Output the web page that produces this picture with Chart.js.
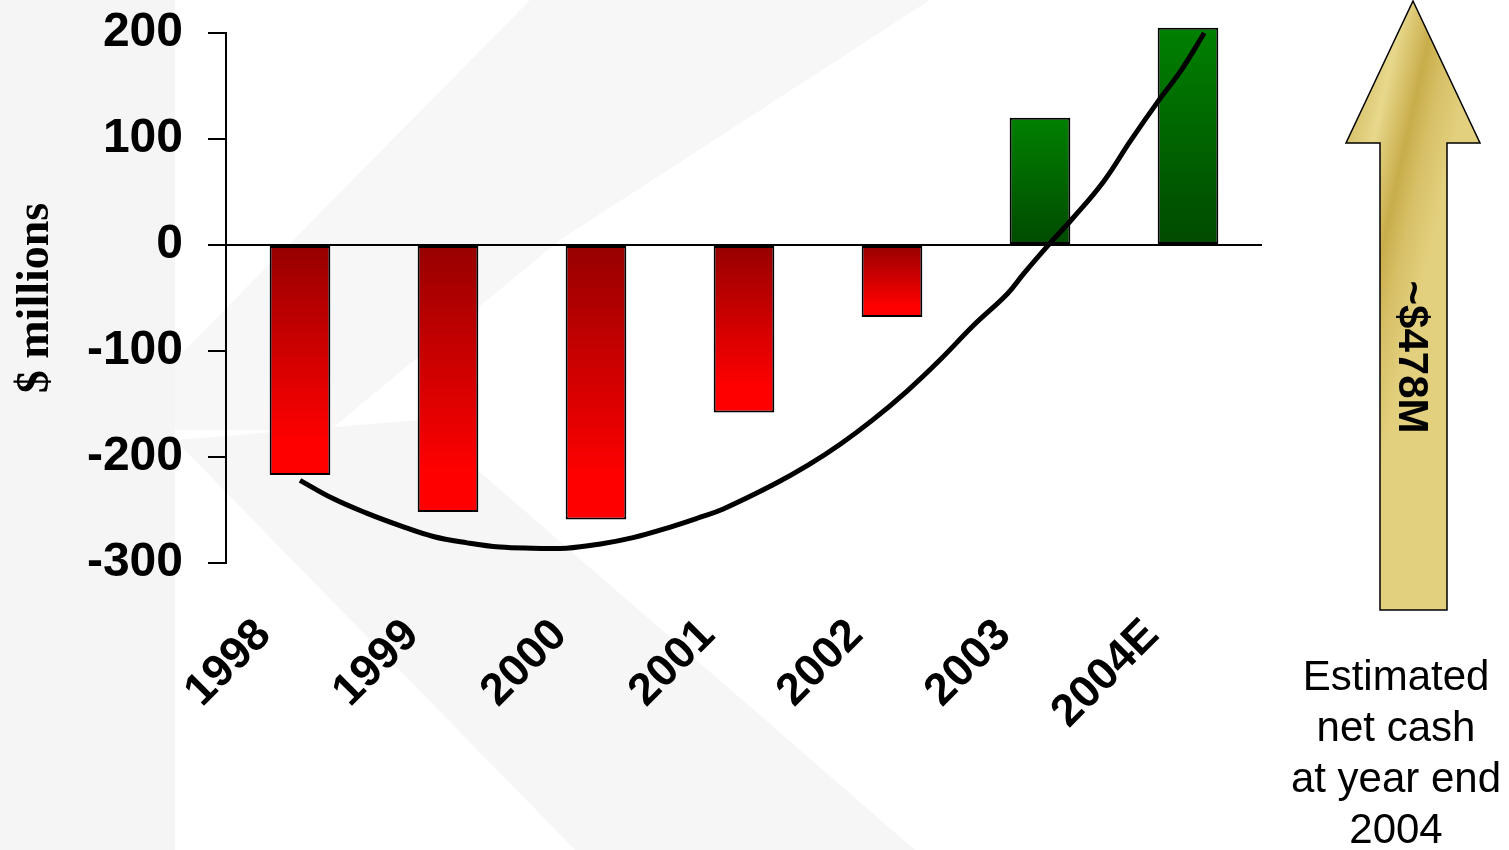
<!DOCTYPE html>
<html>
<head>
<meta charset="utf-8">
<script src="https://cdn.jsdelivr.net/npm/chart.js@4.4.1/dist/chart.umd.min.js"></script>
<style>
  html, body { margin:0; padding:0; background:#fff; width:1509px; height:850px; overflow:hidden; }
  #bg { position:absolute; left:0; top:0; }
  #wrap { position:absolute; left:0; top:0; width:1290px; height:850px; }
  #arrow { position:absolute; left:0; top:0; }
  .amt { position:absolute; left:1413px; top:357px; transform:translate(-50%,-50%) rotate(90deg);
         font:bold 42px "Liberation Sans", Arial, sans-serif; color:#000; white-space:nowrap; }
  .note { position:absolute; left:1276px; width:240px; top:650px; text-align:center;
          font:42px/51px "Liberation Sans", Arial, sans-serif; color:#000; }
</style>
</head>
<body>
<svg id="bg" width="1509" height="850">
  <rect x="0" y="0" width="175" height="850" fill="#f5f5f5"/>
  <polygon points="530,0 930,0 560,240 330,430 175,430 175,360" fill="#f7f7f7"/>
  <polygon points="175,440 420,420 915,850 575,850" fill="#f6f6f6"/>
</svg>
<div id="wrap"><canvas id="c" width="1290" height="850"></canvas></div>
<svg id="arrow" width="1509" height="850">
  <defs>
    <linearGradient id="gold" gradientUnits="userSpaceOnUse" x1="1346" y1="0" x2="1480" y2="30">
      <stop offset="0" stop-color="#dcc774"/>
      <stop offset="0.2" stop-color="#d6bf66"/>
      <stop offset="0.42" stop-color="#e7d88c"/>
      <stop offset="0.65" stop-color="#c9ad4b"/>
      <stop offset="0.8" stop-color="#d7c067"/>
      <stop offset="1" stop-color="#e3d07e"/>
    </linearGradient>
  </defs>
  <polygon points="1413,1 1480,143 1447,143 1447,610 1380,610 1380,143 1346,143"
           fill="url(#gold)" stroke="#000" stroke-width="1.5"/>
</svg>
<div class="amt">~$478M</div>
<div class="note">Estimated<br>net cash<br>at year end<br>2004</div>
<script>
// ---- data ----
const categories = ['1998', '1999', '2000', '2001', '2002', '2003', '2004E'];
const netCash = [-217, -252, -259, -158, -68, 120, 205];
// hand-drawn trend curve, x in category-index units
const trendX = [0, 0.22, 0.45, 0.68, 0.90, 1.13, 1.35, 1.57, 1.80, 2.03, 2.25, 2.48, 2.70, 2.86,
                3.20, 3.43, 3.65, 3.87, 4.10, 4.32, 4.55, 4.78, 4.89, 5.05, 5.22, 5.43, 5.61, 5.80, 5.95, 6.11];
const trendY = [-222, -239, -253, -265, -275, -281, -285, -286, -286, -282, -276, -267, -257, -249,
                -226, -208, -188, -165, -138, -109, -76, -46, -27, -1, 25, 60, 98, 136, 164, 200];
const yTicks = [-300, -200, -100, 0, 100, 200];

function barGradient(context) {
  const chart = context.chart;
  const v = context.raw;
  if (!chart.chartArea || typeof v !== 'number') return '#cc0000';
  const ys = chart.scales.y;
  const y0 = ys.getPixelForValue(0);
  const y1 = ys.getPixelForValue(v);
  const g = chart.ctx.createLinearGradient(0, Math.min(y0, y1), 0, Math.max(y0, y1));
  if (v < 0) {
    g.addColorStop(0, '#960000');
    g.addColorStop(0.85, '#ff0000');
    g.addColorStop(1, '#ff0000');
  } else {
    g.addColorStop(0, '#008000');
    g.addColorStop(1, '#004a00');
  }
  return g;
}

new Chart(document.getElementById('c'), {
  type: 'bar',
  data: {
    labels: categories,
    datasets: [
      {
        type: 'bar',
        data: netCash,
        xAxisID: 'x',
        yAxisID: 'y',
        order: 2,
        clip: false,
        grouped: false,
        backgroundColor: barGradient,
        borderColor: '#000',
        borderWidth: 2,
        borderSkipped: false,
        categoryPercentage: 1,
        barPercentage: 0.41
      },
      {
        type: 'line',
        data: trendX.map((x, i) => ({ x: x, y: trendY[i] })),
        xAxisID: 'xc',
        yAxisID: 'y',
        order: 1,
        clip: false,
        borderColor: '#000',
        borderWidth: 5,
        pointRadius: 0,
        tension: 0.4,
        fill: false
      }
    ]
  },
  options: {
    responsive: false,
    animation: false,
    layout: { padding: { top: 33, right: 28, bottom: 0, left: 0 } },
    plugins: { legend: { display: false }, tooltip: { enabled: false } },
    scales: {
      x: {
        type: 'category',
        position: 'bottom',
        offset: true,
        grid: { display: false, drawTicks: false },
        border: { display: false },
        ticks: {
          color: '#000',
          font: { family: '"Liberation Sans", Arial, sans-serif', size: 45, weight: 'bold' },
          minRotation: 45,
          maxRotation: 45,
          autoSkip: false,
          padding: 46,
          labelOffset: -36
        },
        afterFit(s) { s.height = 287; s.paddingLeft = 0; s.paddingRight = 0; }
      },
      xc: { type: 'linear', axis: 'x', display: false, offset: false, grid: { offset: false }, min: -0.5, max: 6.5 },
      y: {
        type: 'linear',
        min: -300,
        max: 200,
        afterBuildTicks(s) { s.ticks = yTicks.map(v => ({ value: v })); },
        ticks: {
          color: '#000',
          font: { family: '"Liberation Sans", Arial, sans-serif', size: 48, weight: 'bold' },
          padding: 25
        },
        grid: {
          drawOnChartArea: true,
          color: (c) => (c.tick && c.tick.value === 0) ? '#000' : 'rgba(0,0,0,0)',
          lineWidth: 2,
          tickColor: '#000',
          tickLength: 18,
          tickWidth: 2
        },
        border: { display: true, color: '#000', width: 2 },
        title: {
          display: true,
          text: '$ millions',
          color: '#000',
          font: { family: '"Liberation Serif", "Times New Roman", serif', size: 46, weight: 'bold' },
          padding: { top: 9, bottom: 0 }
        },
        afterFit(s) { s.width = 226; s.paddingTop = 0; s.paddingBottom = 0; }
      }
    }
  }
});
</script>
</body>
</html>
